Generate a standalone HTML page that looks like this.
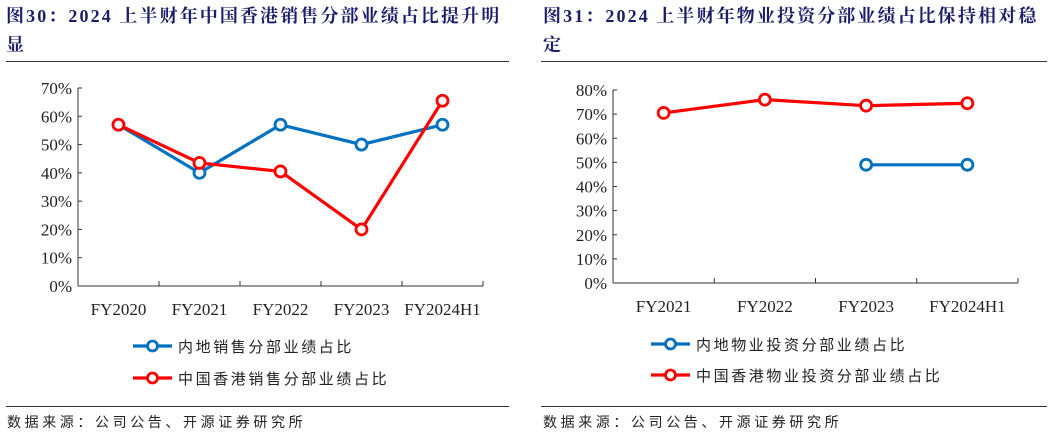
<!DOCTYPE html>
<html><head><meta charset="utf-8"><style>
body{margin:0;width:1057px;height:436px;background:#fff;overflow:hidden;position:relative;font-family:"Liberation Serif","Noto Serif CJK SC",serif}
.t{position:absolute;font-weight:bold;color:#1c1c6b;font-size:18px;line-height:29px;letter-spacing:2.1px;white-space:nowrap}
.rule{position:absolute;height:1px;background:#333}
.src{position:absolute;font-size:14px;color:#222;font-family:"Liberation Sans","Noto Sans CJK SC",sans-serif;letter-spacing:3.6px}
svg{position:absolute;left:0;top:0}
</style></head><body>
<div class="t" style="left:6px;top:2px">图30：2024 上半财年中国香港销售分部业绩占比提升明<br>显</div>
<div class="t" style="left:543px;top:2px">图31：2024 上半财年物业投资分部业绩占比保持相对稳<br>定</div>
<div class="rule" style="left:6px;top:61px;width:503px"></div>
<div class="rule" style="left:541px;top:61px;width:506px"></div>
<div class="rule" style="left:6px;top:406px;width:503px"></div>
<div class="rule" style="left:541px;top:406px;width:506px"></div>
<div class="src" style="left:7px;top:412px">数据来源：公司公告、开源证券研究所</div>
<div class="src" style="left:543px;top:412px">数据来源：公司公告、开源证券研究所</div>
<svg id="svg" width="1057" height="436"></svg>
<script>
const catsL=["FY2020","FY2021","FY2022","FY2023","FY2024H1"];
const blueL=[57,40,57,50,57];
const redL=[57,43.5,40.5,20,65.5];
const ticksL=[0,10,20,30,40,50,60,70];
const catsR=["FY2021","FY2022","FY2023","FY2024H1"];
const blueR=[null,null,49,49];
const redR=[70.5,76,73.5,74.5];
const ticksR=[0,10,20,30,40,50,60,70,80];
const legL=["内地销售分部业绩占比","中国香港销售分部业绩占比"];
const legR=["内地物业投资分部业绩占比","中国香港物业投资分部业绩占比"];
const svg=document.getElementById('svg');
const NS="http://www.w3.org/2000/svg";
function mk(t,a,p){const e=document.createElementNS(NS,t);for(const k in a)e.setAttribute(k,a[k]);(p||svg).appendChild(e);return e;}
function chart(cfg){
  const {x0,x1,y0,yTop,max,cats,ticks,series,leg,legX,legY,name}=cfg;
  const g=mk('g',{});
  
  
  const sx=i=>x0+(i+0.5)*(x1-x0)/cats.length;
  const sy=v=>y0-(v/max)*(y0-yTop);
  mk('line',{x1:x0,y1:yTop,x2:x0,y2:y0,stroke:'#333','stroke-width':1},g);
  mk('line',{x1:x0,y1:y0,x2:x1,y2:y0,stroke:'#333','stroke-width':1},g);
  ticks.forEach(v=>{
    mk('line',{x1:x0,y1:sy(v),x2:x0+4,y2:sy(v),stroke:'#333'},g);
    const t=mk('text',{x:x0-6,y:sy(v)+6,'text-anchor':'end','font-size':17,fill:'#222','font-family':'Liberation Serif,serif'},g);
    t.textContent=v+'%';
    
    
  });
  for(let i=0;i<=cats.length;i++){const x=x0+i*(x1-x0)/cats.length;mk('line',{x1:x,y1:y0,x2:x,y2:y0-5,stroke:'#333'},g);}
  cats.forEach((c,i)=>{
    const t=mk('text',{x:sx(i),y:y0+29,'text-anchor':'middle','font-size':17,fill:'#222','font-family':'Liberation Serif,serif'},g);
    t.textContent=c;
    
    
  });
  series.forEach((s,si)=>{
    let d='';let pen=false;
    s.vals.forEach((v,i)=>{if(v==null){pen=false;return;}d+=(pen?'L':'M')+sx(i)+','+sy(v);pen=true;});
    const p=mk('path',{d:d,fill:'none',stroke:s.color,'stroke-width':3.2},g);
    
    
    s.vals.forEach((v,i)=>{if(v==null)return;
      const c=mk('circle',{cx:sx(i),cy:sy(v),r:5.5,fill:'#fff',stroke:s.color,'stroke-width':2.8},g);
      
      
    });
    const ly=legY[si];
    const lg=mk('g',{},g);
    
    
    mk('line',{x1:legX,y1:ly,x2:legX+39,y2:ly,stroke:s.color,'stroke-width':3.2},lg);
    mk('circle',{cx:legX+19.5,cy:ly,r:5,fill:'#fff',stroke:s.color,'stroke-width':2.8},lg);
    const t=mk('text',{x:legX+45,y:ly+6,'font-size':15,fill:'#222','font-family':'Liberation Sans,Noto Sans CJK SC,sans-serif','letter-spacing':'2.6'},lg);
    t.textContent=leg[si];
  });
}
chart({name:'left-chart',x0:78,x1:483,y0:286,yTop:88,max:70,cats:catsL,ticks:ticksL,
  series:[{vals:blueL,color:'#0070c0',name:'mainland-sales'},{vals:redL,color:'#ff0000',name:'hk-sales'}],
  leg:legL,legX:133,legY:[346,378]});
chart({name:'right-chart',x0:613,x1:1018,y0:283,yTop:90,max:80,cats:catsR,ticks:ticksR,
  series:[{vals:blueR,color:'#0070c0',name:'mainland-investment'},{vals:redR,color:'#ff0000',name:'hk-investment'}],
  leg:legR,legX:651,legY:[344,375]});
</script>
</body></html>
